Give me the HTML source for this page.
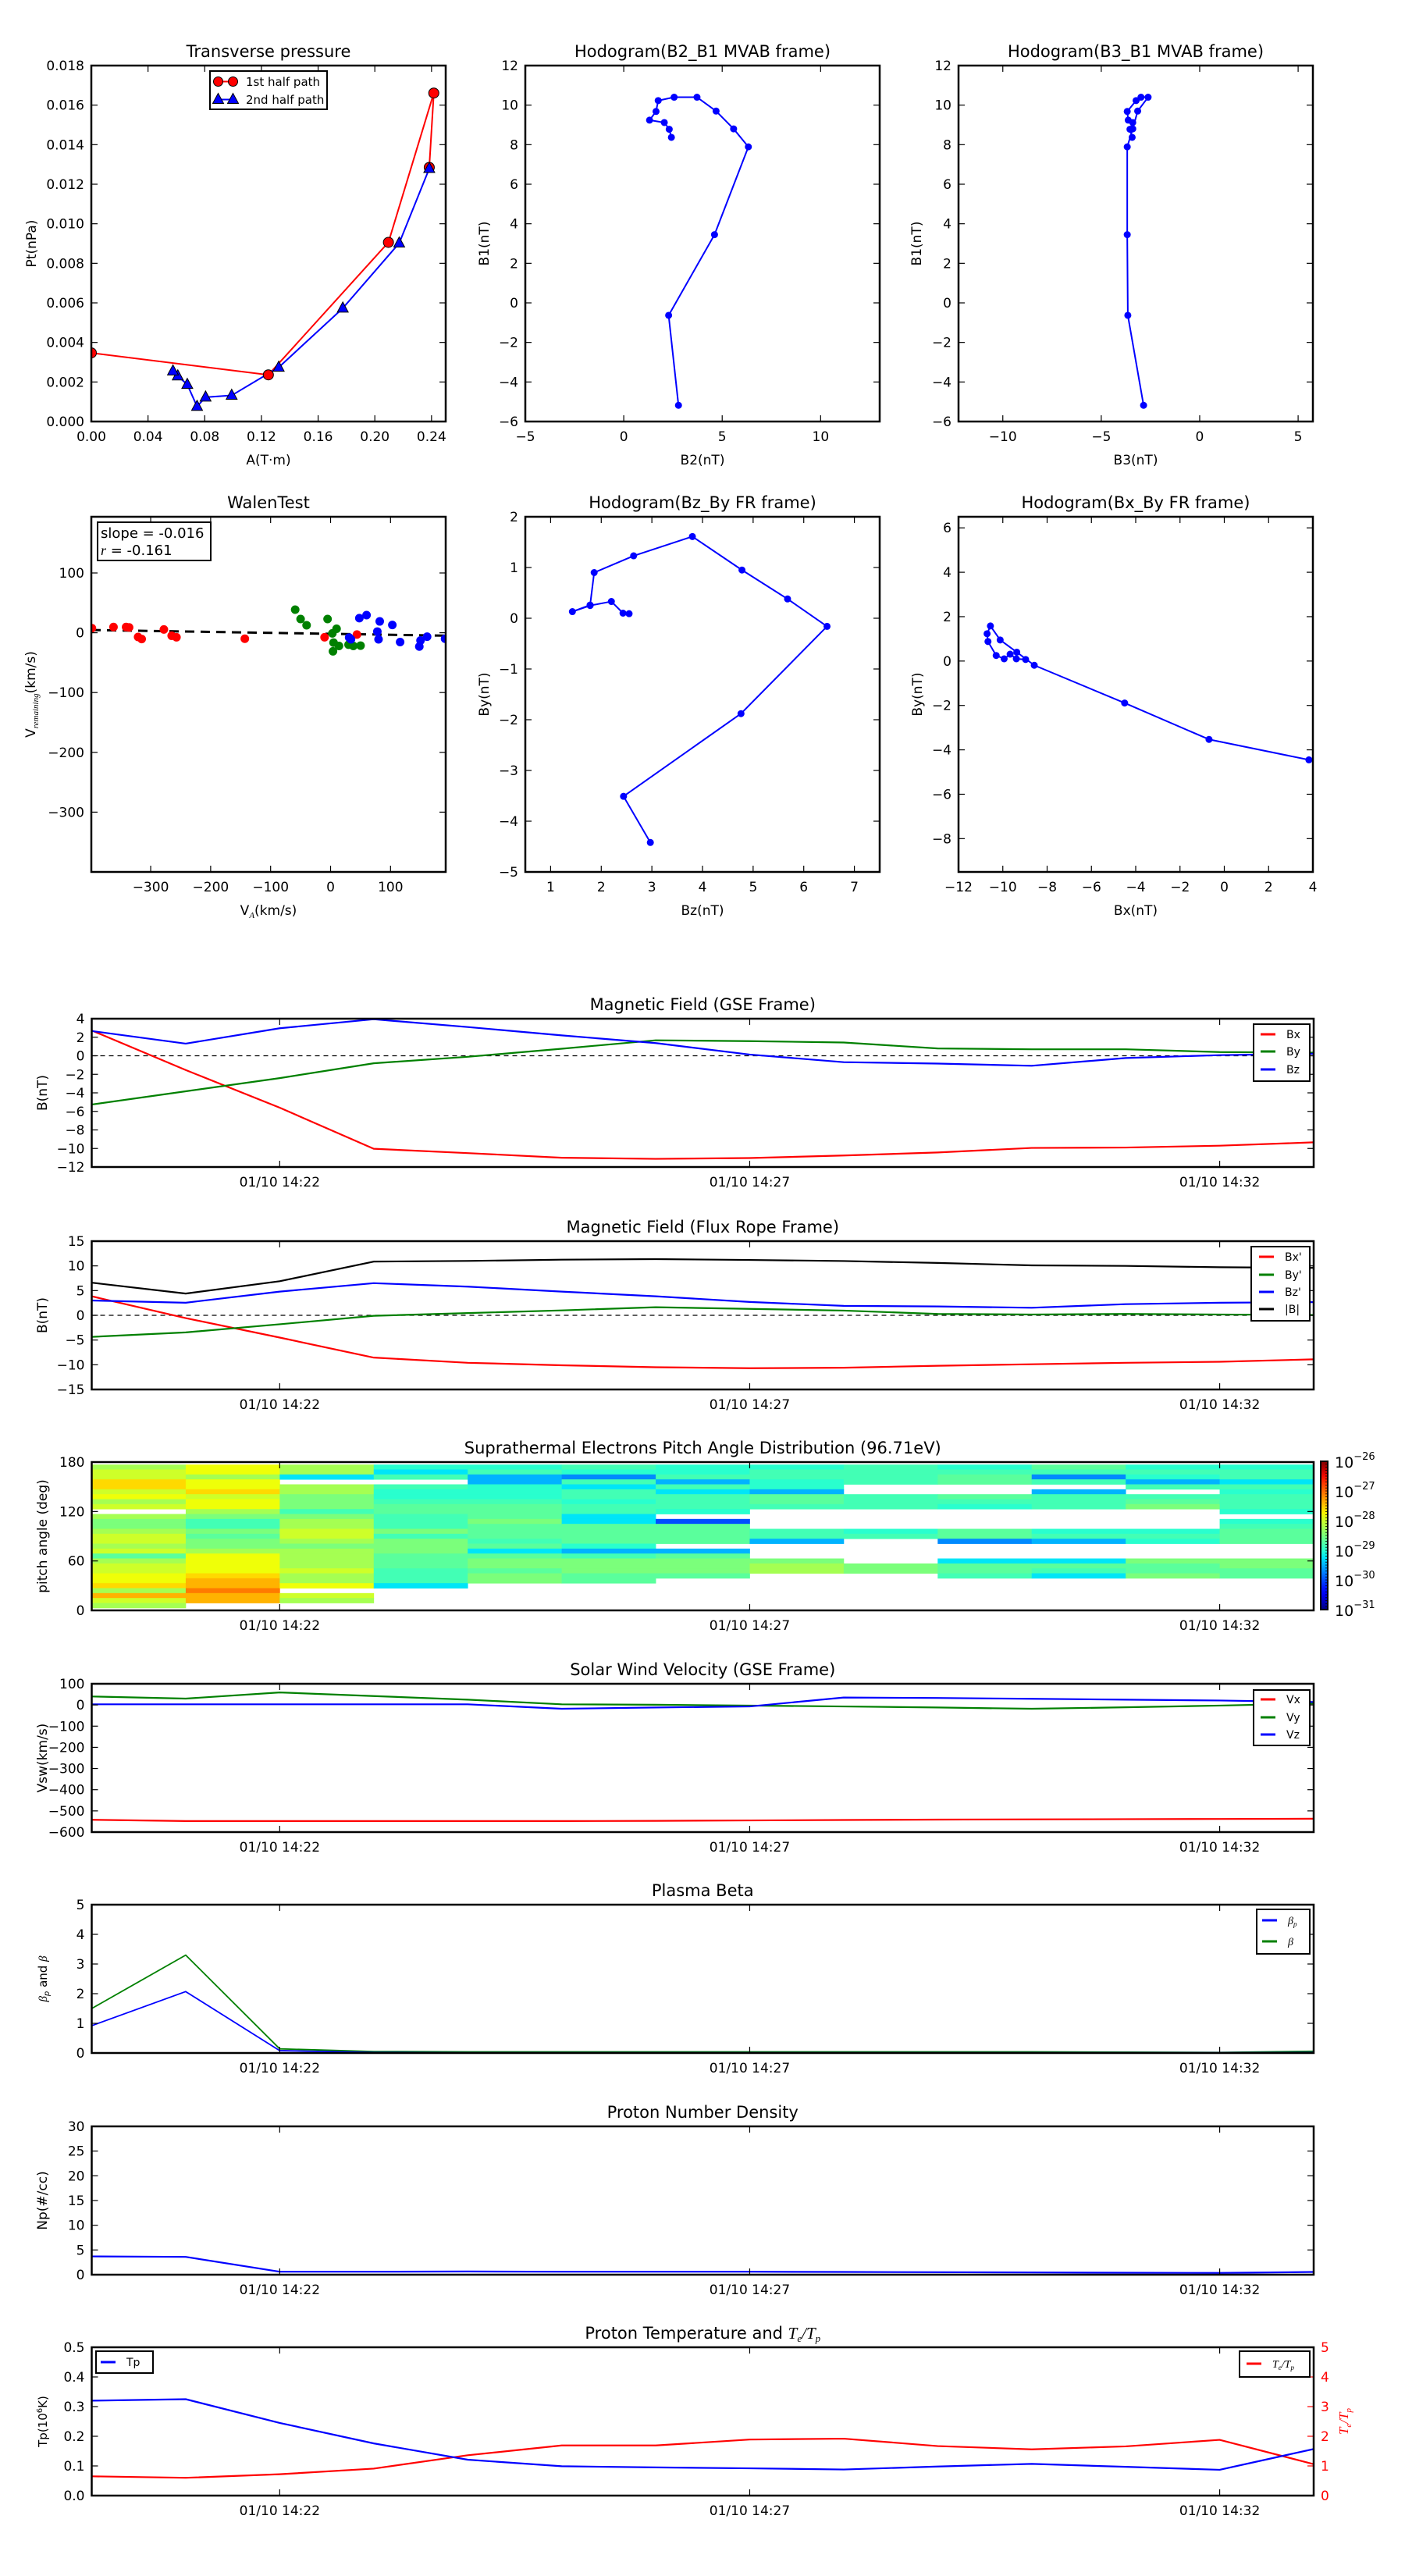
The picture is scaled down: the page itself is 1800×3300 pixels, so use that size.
<!DOCTYPE html>
<html><head><meta charset="utf-8">
<style>
html,body{margin:0;padding:0;background:#fff;}
svg{display:block;font-family:"DejaVu Sans","Liberation Sans",sans-serif;}
</style></head>
<body>
<svg id="fig" xmlns="http://www.w3.org/2000/svg" width="1800" height="3300" viewBox="0 0 1800 3300"></svg>
<script>
// ---------------- DATA ----------------
const tpRedA=[0,0.1249,0.2096,0.2416,0.2384];
const tpRedPt=[0.00347,0.00236,0.00906,0.01661,0.01285];
const tpBlueA=[0.2384,0.2172,0.1774,0.1322,0.099,0.0806,0.0746,0.0677,0.061,0.0576];
const tpBluePt=[0.01279,0.00902,0.00573,0.00274,0.00132,0.00123,0.00076,0.00187,0.0023,0.00255];
const hB2=[2.78,2.28,4.61,6.33,5.58,4.69,3.72,2.56,1.75,1.64,1.31,2.06,2.31,2.42];
const hB1=[-5.18,-0.63,3.45,7.89,8.80,9.70,10.40,10.40,10.23,9.68,9.24,9.12,8.78,8.37];
const hB3=[-2.85,-3.65,-3.68,-3.68,-3.40,-3.15,-2.62,-2.98,-3.23,-3.68,-3.63,-3.40,-3.54,-3.43];
const walenRedX=[-398,-362,-341,-336,-321,-315,-278,-265,-257,-143,-10,44];
const walenRedY=[7.6,9.6,9.6,9,-7,-10.5,5.5,-5,-7.5,-10,-7.5,-3];
const walenGreenX=[-59,-50,-40,-5,10,3,5,4,14,30,38,50];
const walenGreenY=[38.6,23,12.6,23,6.6,-1,-16.5,-31,-22,-20,-22,-21.5];
const walenBlueX=[31,34,48,60,78,80,82,103,116,148,150,161,191];
const walenBlueY=[-8,-11,24.5,29.5,2,-11,19,13,-15.5,-23,-13,-6.5,-10];
const walenSlope=-0.016, walenIntercept=-1.77;
const frBz=[2.97,2.44,4.76,6.46,5.68,4.78,3.80,2.64,1.86,1.78,1.43,1.78,2.20,2.43,2.55];
const frByA=[-4.42,-3.51,-1.88,-0.16,0.38,0.95,1.61,1.23,0.90,0.26,0.13,0.25,0.33,0.10,0.09];
const frBx=[3.82,-0.69,-4.50,-8.58,-9.37,-10.12,-10.56,-10.71,-10.67,-10.30,-9.94,-9.67,-9.39,-8.97];
const frByB=[-4.45,-3.53,-1.89,-0.19,0.40,0.95,1.58,1.23,0.88,0.25,0.10,0.31,0.10,0.07];
const tsMin=[0,1,2,3,4,5,6,7,8,9,10,11,12,13];
const tsTickMin=[2,7,12];
const tsTickLabels=['01/10 14:22','01/10 14:27','01/10 14:32'];
const gseBx=[2.73,-1.54,-5.6,-10.03,-10.5,-11.0,-11.12,-11.03,-10.76,-10.43,-9.94,-9.9,-9.7,-9.34];
const gseBy=[-5.26,-3.83,-2.41,-0.81,-0.11,0.76,1.67,1.58,1.43,0.79,0.70,0.70,0.4,0.34];
const gseBz=[2.67,1.31,2.97,3.94,3.1,2.2,1.37,0.13,-0.69,-0.84,-1.08,-0.24,0.07,0.22];
const frTBx=[3.85,-0.57,-4.5,-8.55,-9.6,-10.1,-10.5,-10.7,-10.6,-10.2,-9.9,-9.6,-9.4,-8.9];
const frTBy=[-4.36,-3.45,-1.81,-0.1,0.45,1.0,1.64,1.3,0.96,0.28,0.17,0.28,0.17,0.06];
const frTBz=[3.0,2.55,4.8,6.5,5.8,4.8,3.85,2.7,1.92,1.8,1.53,2.26,2.55,2.66];
const frTB=[6.6,4.4,6.9,10.87,11.0,11.26,11.37,11.2,10.98,10.6,10.1,10.0,9.73,9.6];
const swVx=[-542,-548,-548,-548,-548,-548,-547,-545,-543,-541,-540,-539,-538,-537];
const swVy=[40,30,59,42,25,3,1,-3,-7,-12,-18,-11,-3,7];
const swVz=[3,3,3,3,3,-18,-12,-7,35,33,29,25,21,14];
const betaP=[0.92,2.07,0.08,0.02,0.01,0.01,0.01,0.01,0.01,0.01,0.01,0.01,0.01,0.02];
const betaT=[1.5,3.3,0.14,0.05,0.04,0.04,0.04,0.04,0.04,0.04,0.04,0.03,0.02,0.06];
const densNp=[3.7,3.6,0.6,0.6,0.65,0.6,0.6,0.6,0.55,0.5,0.45,0.4,0.35,0.55];
const tempTp=[0.320,0.325,0.245,0.176,0.121,0.099,0.095,0.092,0.088,0.098,0.107,0.097,0.087,0.157];
const tempRatio=[0.65,0.6,0.72,0.91,1.36,1.69,1.69,1.89,1.92,1.67,1.56,1.66,1.88,1.06];
const padRowCenters=[174,168,162,156,150,144,138,132,126,120,114,108,102,96,90,84,78,72,66,60,54,48,42,36,30,24,18,12,6];
const padCols=[
[-28.25,-28,-28,-27.6,-27.6,-28,-27.8,-28.25,-28,null,-28.25,-28.5,-28.5,-28.25,-28,-28,-28.25,-28,-28.7,-28.25,-28,-28,-27.8,-27.8,-27.6,-28.25,-27.4,-28,-28.25],
[-27.8,-27.8,-28.25,-27.8,-27.8,-27.6,-28,-27.8,-27.8,-28.25,-28.5,-28.85,-28.85,-28.5,-28.7,-28.5,-28.5,-28.25,-27.8,-27.8,-27.8,-27.8,-27.6,-27.4,-27.4,-27.1,-27.4,-27.4,null],
[-28.25,-28.25,-29.25,null,-28.25,-28.25,-28.5,-28.5,-28.5,-28.85,-28.5,-28.25,-28.25,-28,-28,-28.25,-28.5,-28.25,-28.25,-28.25,-28.25,-28,-28.25,-28.25,-27.8,null,-28,-28.25,null],
[-29,-29.25,-28.85,null,-28.85,-29,-29,-28.85,-28.7,-28.7,-28.85,-28.85,-28.85,-28.5,-28.85,-28.5,-28.5,-28.5,-28.7,-28.7,-28.7,-28.85,-28.85,-28.85,-29.25,null,null,null,null],
[-29,-28.85,-29.5,-29.5,-29,-29,-29,-28.85,-28.7,-28.7,-28.7,-28.5,-28.7,-28.7,-28.7,-28.85,-28.7,-29.25,-28.7,-28.5,-28.5,-28.7,-28.5,-28.5,null,null,null,null,null],
[-28.85,-29,-29.7,-28.85,-29.25,-28.85,-28.85,-29,-28.85,-28.85,-29.25,-29.25,-28.7,-28.7,-28.7,-28.7,-29,-29.5,-28.85,-28.5,-28.5,-28.5,-28.7,-28.7,null,null,null,null,null],
[-29,-29,-28.85,-29.5,-28.85,-29.25,-28.85,-28.85,-28.85,-29,null,-30,-28.7,-28.7,-28.7,-28.7,null,-29.5,-28.7,-28.5,-28.5,-28.5,-28.7,null,null,null,null,null,null],
[-29,-28.85,-28.85,-29,-29,-29.5,-28.7,-28.7,-28.85,null,null,null,null,-28.85,-28.85,-29.5,null,null,null,-28.5,-28.25,-28.25,null,null,null,null,null,null,null],
[-28.85,-28.85,-28.85,-28.85,null,null,-28.85,-28.85,-28.85,null,null,null,null,-29,-28.85,null,null,null,null,null,-28.5,-28.5,null,null,null,null,null,null,null],
[-29,-28.85,-28.7,-28.7,null,null,-28.7,-28.85,-29,null,null,null,null,-28.7,-28.7,-29.7,null,null,null,-29.25,-28.7,-28.7,-28.85,null,null,null,null,null,null],
[-28.7,-28.85,-29.7,-28.85,null,-29.5,-28.85,-28.85,-28.85,null,null,null,null,-29,-28.85,-29.5,null,null,null,-29.25,-28.7,-28.85,-29.25,null,null,null,null,null,null],
[-29,-28.85,-29,-29.5,-28.85,null,-28.85,-28.7,-28.5,null,null,null,null,-29,-28.85,-29,null,null,null,-28.5,-28.7,-28.7,-28.5,null,null,null,null,null,null],
[-29,-28.85,-28.85,-29.25,-28.85,-29,-28.85,-28.85,-28.85,-29,null,-29,-28.85,-28.7,-28.7,-28.7,null,null,null,-28.5,-28.5,-28.7,-28.7,null,null,null,null,null,null]
];
const padLogMin=-31, padLogMax=-26;
const padCbarExp=[-31,-30,-29,-28,-27,-26];

// ---------------- HELPERS ----------------
const NS='http://www.w3.org/2000/svg';
const svg=document.getElementById('fig');
let cid=0;
function mk(tag,attrs,parent){const e=document.createElementNS(NS,tag);for(const k in attrs)e.setAttribute(k,attrs[k]);parent.appendChild(e);return e;}
function tx(parent,x,y,s,size,anchor,rot){const e=mk('text',{x:x,y:y,'font-size':size,'text-anchor':anchor||'middle',fill:'#000'},parent);if(rot)e.setAttribute('transform','rotate('+rot+' '+x+' '+y+')');e.textContent=s;return e;}
function fmt(v,d){return v.toFixed(d).replace('-','\u2212');}
function axes(name,L,T,W,H,x0,x1,y0,y1){
  const g=mk('g',{},svg);
  
  
  const id='clip'+(cid++);
  const cp=mk('clipPath',{id:id},g);
  mk('rect',{x:L,y:T,width:W,height:H},cp);
  const plot=mk('g',{'clip-path':'url(#'+id+')'},g);
  
  
  return {g:g,plot:plot,L:L,T:T,W:W,H:H,sx:v=>L+(v-x0)/(x1-x0)*W,sy:v=>T+H-(v-y0)/(y1-y0)*H};
}
function xticks(ax,vals,labels,size){
  const B=ax.T+ax.H;
  vals.forEach((v,i)=>{const x=ax.sx(v);
    const t1=mk('line',{x1:x,y1:B,x2:x,y2:B-8,stroke:'#000','stroke-width':1.2},ax.g);
    
    const t2=mk('line',{x1:x,y1:ax.T,x2:x,y2:ax.T+8,stroke:'#000','stroke-width':1.2},ax.g);
    
    const lb=tx(ax.g,x,B+25,labels[i],size||17,'middle');
    
  });
}
function yticks(ax,vals,labels,size,color,rightOnly,noRight){
  const R=ax.L+ax.W;
  vals.forEach((v,i)=>{const y=ax.sy(v);
    if(!rightOnly){
      const t1=mk('line',{x1:ax.L,y1:y,x2:ax.L+8,y2:y,stroke:'#000','stroke-width':1.2},ax.g);
      
      const lb=tx(ax.g,ax.L-9,y+6,labels[i],size||17,'end');
      
    }
    if(!noRight){
      const t2=mk('line',{x1:R,y1:y,x2:R-8,y2:y,stroke:color||'#000','stroke-width':1.2},ax.g);
      
    }
    if(rightOnly){
      const lb=tx(ax.g,R+9,y+6,labels[i],size||17,'start');
      lb.setAttribute('fill',color);
      
    }
  });
}
function frame(ax){const r=mk('rect',{x:ax.L,y:ax.T,width:ax.W,height:ax.H,fill:'none',stroke:'#000','stroke-width':2.5},ax.g);}
function title(ax,s){const t=tx(ax.g,ax.L+ax.W/2,ax.T-11,s,21,'middle');return t;}
function path(ax,xs,ys,color,w,dash){
  let d='';xs.forEach((v,i)=>{d+=(i?'L':'M')+ax.sx(v).toFixed(2)+' '+ax.sy(ys[i]).toFixed(2);});
  const p=mk('path',{d:d,fill:'none',stroke:color,'stroke-width':w||2,'stroke-linejoin':'round'},ax.plot);
  if(dash)p.setAttribute('stroke-dasharray',dash);
  return p;
}
function dots(ax,xs,ys,color,r,edge){
  xs.forEach((v,i)=>{const c=mk('circle',{cx:ax.sx(v),cy:ax.sy(ys[i]),r:r,fill:color,stroke:edge||color,'stroke-width':edge?1:0},ax.plot);
    
    });
}
function legendBox(parent,x,y,w,h){const r=mk('rect',{x:x,y:y,width:w,height:h,fill:'#fff',stroke:'#000','stroke-width':2},parent);return r;}
function legEntry(parent,x,y,color,label){
  const l=mk('line',{x1:x,y1:y,x2:x+19,y2:y,stroke:color,'stroke-width':3},parent);
  
  const t=tx(parent,x+33,y+5,label,14,'start');
  
  return t;
}
function jet(t){
  t=Math.max(0,Math.min(1,t));
  function seg(pts){for(let i=1;i<pts.length;i++){if(t<=pts[i][0]){const a=pts[i-1],b=pts[i];return a[1]+(b[1]-a[1])*(t-a[0])/(b[0]-a[0]);}}return pts[pts.length-1][1];}
  const r=seg([[0,0],[0.35,0],[0.66,1],[0.89,1],[1,0.5]]);
  const g=seg([[0,0],[0.125,0],[0.375,1],[0.64,1],[0.91,0],[1,0]]);
  const b=seg([[0,0.5],[0.11,1],[0.34,1],[0.65,0],[1,0]]);
  return 'rgb('+Math.round(r*255)+','+Math.round(g*255)+','+Math.round(b*255)+')';
}

// ---------------- ROW 1 ----------------
const r1T=84,r1H=456,pW=454;
(function(){
  const ax=axes('transverse-pressure-chart',117,r1T,pW,r1H,0,0.25,0,0.018);
  path(ax,tpRedA,tpRedPt,'#ff0000',2);
  path(ax,tpBlueA,tpBluePt,'#0000ff',2);
  tpRedA.forEach((v,i)=>{const c=mk('circle',{cx:ax.sx(v),cy:ax.sy(tpRedPt[i]),r:6.5,fill:'#ff0000',stroke:'#000','stroke-width':1},ax.plot);
    
    });
  tpBlueA.forEach((v,i)=>{const x=ax.sx(v),y=ax.sy(tpBluePt[i]);const p=mk('polygon',{points:(x)+','+(y-8)+' '+(x-7)+','+(y+5)+' '+(x+7)+','+(y+5),fill:'#0000ff',stroke:'#000','stroke-width':1},ax.plot);
    
    });
  xticks(ax,[0,0.04,0.08,0.12,0.16,0.20,0.24],['0.00','0.04','0.08','0.12','0.16','0.20','0.24']);
  const yv=[0,0.002,0.004,0.006,0.008,0.010,0.012,0.014,0.016,0.018];
  yticks(ax,yv,yv.map(v=>v.toFixed(3)));
  frame(ax);title(ax,'Transverse pressure');
  const xl=tx(ax.g,ax.L+ax.W/2,595,'A(T\u00b7m)',17,'middle');
  const yl=tx(ax.g,46,ax.T+ax.H/2,'Pt(nPa)',17,'middle',-90);
  const lg=mk('g',{},ax.g);
  legendBox(lg,269,91,150,49);
  mk('line',{x1:279,y1:104.5,x2:298.5,y2:104.5,stroke:'#ff0000','stroke-width':2},lg);
  mk('circle',{cx:279.5,cy:104.5,r:6,fill:'#ff0000',stroke:'#000'},lg);
  mk('circle',{cx:298.5,cy:104.5,r:6,fill:'#ff0000',stroke:'#000'},lg);
  const a=tx(lg,315,110,'1st half path',15,'start');
  mk('line',{x1:279,y1:127.5,x2:298.5,y2:127.5,stroke:'#0000ff','stroke-width':2},lg);
  mk('polygon',{points:'279.5,119.5 272.5,132.5 286.5,132.5',fill:'#0000ff',stroke:'#000'},lg);
  mk('polygon',{points:'298.5,119.5 291.5,132.5 305.5,132.5',fill:'#0000ff',stroke:'#000'},lg);
  const b=tx(lg,315,133,'2nd half path',15,'start');
})();
(function(){
  const ax=axes('hodogram-b2-b1-chart',673,r1T,pW,r1H,-5,13,-6,12);
  path(ax,hB2,hB1,'#0000ff',2);dots(ax,hB2,hB1,'#0000ff',4.5);
  xticks(ax,[-5,0,5,10],['\u22125','0','5','10']);
  const yv=[-6,-4,-2,0,2,4,6,8,10,12];yticks(ax,yv,yv.map(v=>fmt(v,0)));
  frame(ax);title(ax,'Hodogram(B2_B1 MVAB frame)');
  const xl=tx(ax.g,ax.L+ax.W/2,595,'B2(nT)',17,'middle');
  const yl=tx(ax.g,626,ax.T+ax.H/2,'B1(nT)',17,'middle',-90);
})();
(function(){
  const ax=axes('hodogram-b3-b1-chart',1228,r1T,pW,r1H,-12.25,5.75,-6,12);
  path(ax,hB3,hB1,'#0000ff',2);dots(ax,hB3,hB1,'#0000ff',4.5);
  xticks(ax,[-10,-5,0,5],['\u221210','\u22125','0','5']);
  const yv=[-6,-4,-2,0,2,4,6,8,10,12];yticks(ax,yv,yv.map(v=>fmt(v,0)));
  frame(ax);title(ax,'Hodogram(B3_B1 MVAB frame)');
  const xl=tx(ax.g,ax.L+ax.W/2,595,'B3(nT)',17,'middle');
  const yl=tx(ax.g,1180,ax.T+ax.H/2,'B1(nT)',17,'middle',-90);
})();

// ---------------- ROW 2 ----------------
const r2T=662,r2H=455;
(function(){
  const ax=axes('walen-test-chart',117,r2T,pW,r2H,-399,192,-400,194);
  const lx=[-399,192];
  const d=mk('line',{x1:ax.sx(lx[0]),y1:ax.sy(walenSlope*lx[0]+walenIntercept),x2:ax.sx(lx[1]),y2:ax.sy(walenSlope*lx[1]+walenIntercept),stroke:'#000','stroke-width':3,'stroke-dasharray':'12,8'},ax.plot);
  
  dots(ax,walenRedX,walenRedY,'#ff0000',5.5);
  dots(ax,walenGreenX,walenGreenY,'#008000',5.5);
  dots(ax,walenBlueX,walenBlueY,'#0000ff',5.5);
  xticks(ax,[-300,-200,-100,0,100],['\u2212300','\u2212200','\u2212100','0','100']);
  yticks(ax,[-300,-200,-100,0,100],['\u2212300','\u2212200','\u2212100','0','100']);
  frame(ax);title(ax,'WalenTest');
  const xl=tx(ax.g,ax.L+ax.W/2,1172,'V',17,'middle');
  const s1=mk('tspan',{'font-size':11,'font-style':'italic','font-family':'"Liberation Serif",serif',dy:4},xl);s1.textContent='A';
  const s2=mk('tspan',{dy:-4},xl);s2.textContent='(km/s)';
  const yl=tx(ax.g,45,ax.T+ax.H/2,'V',17,'middle',-90);
  const s3=mk('tspan',{'font-size':11,'font-style':'italic','font-family':'"Liberation Serif",serif',dy:4},yl);s3.textContent='remaining';
  const s4=mk('tspan',{dy:-4},yl);s4.textContent='(km/s)';
  const bx=mk('g',{},ax.g);
  legendBox(bx,125,669,145,49);
  const a=tx(bx,129,689,'slope = -0.016',18,'start');
  const b=tx(bx,129,711,'',18,'start');
  const r=mk('tspan',{'font-style':'italic','font-family':'"Liberation Serif",serif'},b);r.textContent='r';
  const r2=mk('tspan',{},b);r2.textContent=' = -0.161';
})();
(function(){
  const ax=axes('hodogram-bz-by-chart',673,r2T,pW,r2H,0.5,7.5,-5,2);
  path(ax,frBz,frByA,'#0000ff',2);dots(ax,frBz,frByA,'#0000ff',4.5);
  xticks(ax,[1,2,3,4,5,6,7],['1','2','3','4','5','6','7']);
  const yv=[-5,-4,-3,-2,-1,0,1,2];yticks(ax,yv,yv.map(v=>fmt(v,0)));
  frame(ax);title(ax,'Hodogram(Bz_By FR frame)');
  const xl=tx(ax.g,ax.L+ax.W/2,1172,'Bz(nT)',17,'middle');
  const yl=tx(ax.g,626,ax.T+ax.H/2,'By(nT)',17,'middle',-90);
})();
(function(){
  const ax=axes('hodogram-bx-by-chart',1228,r2T,pW,r2H,-12,4,-9.5,6.5);
  path(ax,frBx,frByB,'#0000ff',2);dots(ax,frBx,frByB,'#0000ff',4.5);
  const xv=[-12,-10,-8,-6,-4,-2,0,2,4];xticks(ax,xv,xv.map(v=>fmt(v,0)));
  const yv=[-8,-6,-4,-2,0,2,4,6];yticks(ax,yv,yv.map(v=>fmt(v,0)));
  frame(ax);title(ax,'Hodogram(Bx_By FR frame)');
  const xl=tx(ax.g,ax.L+ax.W/2,1172,'Bx(nT)',17,'middle');
  const yl=tx(ax.g,1181,ax.T+ax.H/2,'By(nT)',17,'middle',-90);
})();

// ---------------- TIME SERIES ----------------
const tsL=117.5,tsW=1565.5,tsH=190;
function tsAxes(name,top,y0,y1){return axes(name,tsL,top,tsW,tsH,0,13,y0,y1);}
function tsFinish(ax,t,yv,yl,ylabel){
  xticks(ax,tsTickMin,tsTickLabels);
  yticks(ax,yv,yl);
  frame(ax);title(ax,t);
  const y=tx(ax.g,60,ax.T+ax.H/2,ylabel,17,'middle',-90);
  
  return y;
}
(function(){
  const ax=tsAxes('magnetic-field-gse-chart',1305,-12,4);
  const z=mk('line',{x1:ax.L,y1:ax.sy(0),x2:ax.L+ax.W,y2:ax.sy(0),stroke:'#000','stroke-width':1.2,'stroke-dasharray':'6,5'},ax.plot);
  path(ax,tsMin,gseBx,'#ff0000',2.2);
  path(ax,tsMin,gseBy,'#008000',2.2);
  path(ax,tsMin,gseBz,'#0000ff',2.2);
  const yv=[-12,-10,-8,-6,-4,-2,0,2,4];
  tsFinish(ax,'Magnetic Field (GSE Frame)',yv,yv.map(v=>fmt(v,0)),'B(nT)');
  const lg=mk('g',{},ax.g);
  legendBox(lg,1606,1312,72,73);
  legEntry(lg,1615,1325,'#ff0000','Bx');legEntry(lg,1615,1347,'#008000','By');legEntry(lg,1615,1370,'#0000ff','Bz');
})();
(function(){
  const ax=tsAxes('magnetic-field-flux-rope-chart',1590,-15,15);
  const z=mk('line',{x1:ax.L,y1:ax.sy(0),x2:ax.L+ax.W,y2:ax.sy(0),stroke:'#000','stroke-width':1.2,'stroke-dasharray':'6,5'},ax.plot);
  path(ax,tsMin,frTBx,'#ff0000',2.2);
  path(ax,tsMin,frTBy,'#008000',2.2);
  path(ax,tsMin,frTBz,'#0000ff',2.2);
  path(ax,tsMin,frTB,'#000000',2.2);
  const yv=[-15,-10,-5,0,5,10,15];
  tsFinish(ax,'Magnetic Field (Flux Rope Frame)',yv,yv.map(v=>fmt(v,0)),'B(nT)');
  const lg=mk('g',{},ax.g);
  legendBox(lg,1603,1597,75,95);
  legEntry(lg,1613,1610,'#ff0000',"Bx'");legEntry(lg,1613,1633,'#008000',"By'");legEntry(lg,1613,1655,'#0000ff',"Bz'");legEntry(lg,1613,1677,'#000000','|B|');
})();
(function(){
  const ax=tsAxes('pitch-angle-distribution-chart',1873,0,180);
  padCols.forEach((col,j)=>{
    col.forEach((v,i)=>{
      if(v===null)return;
      const a=padRowCenters[i];
      const x0=ax.sx(tsMin[j]),x1=ax.sx(tsMin[j+1]);
      const y0=ax.sy(a+3),y1=ax.sy(a-3);
      const r=mk('rect',{x:x0,y:y0,width:x1-x0+0.4,height:y1-y0+0.4,fill:jet((v-padLogMin)/(padLogMax-padLogMin))},ax.plot);
      
      
    });
  });
  const yv=[0,60,120,180];
  tsFinish(ax,'Suprathermal Electrons Pitch Angle Distribution (96.71eV)',yv,yv.map(v=>String(v)),'pitch angle (deg)');
  const cb=mk('g',{},svg);
  const defs=mk('defs',{},cb);
  const gr=mk('linearGradient',{id:'jetgrad',x1:0,y1:1,x2:0,y2:0},defs);
  for(let k=0;k<=20;k++){mk('stop',{offset:(k/20),'stop-color':jet(k/20)},gr);}
  const cbT=1872,cbH=190,cbX=1692,cbW=9;
  mk('rect',{x:cbX,y:cbT,width:cbW,height:cbH,fill:'url(#jetgrad)',stroke:'#000','stroke-width':2},cb);
  padCbarExp.forEach(e=>{
    const y=cbT+cbH-(e-padLogMin)/(padLogMax-padLogMin)*cbH;
    const t=tx(cb,1710,y+8,'10',19,'start');
    const s=mk('tspan',{'font-size':13,dy:-10},t);s.textContent=fmt(e,0);
  });
  for(let k=0;k<=50;k++){const y=cbT+cbH*k/50;mk('line',{x1:cbX+cbW-3,y1:y,x2:cbX+cbW,y2:y,stroke:'#000','stroke-width':0.8},cb);}
})();
(function(){
  const ax=tsAxes('solar-wind-velocity-chart',2157,-600,100);
  path(ax,tsMin,swVx,'#ff0000',2.2);
  path(ax,tsMin,swVy,'#008000',2.2);
  path(ax,tsMin,swVz,'#0000ff',2.2);
  const yv=[-600,-500,-400,-300,-200,-100,0,100];
  tsFinish(ax,'Solar Wind Velocity (GSE Frame)',yv,yv.map(v=>fmt(v,0)),'Vsw(km/s)');
  const lg=mk('g',{},ax.g);
  legendBox(lg,1606,2165,72,71);
  legEntry(lg,1615,2177,'#ff0000','Vx');legEntry(lg,1615,2200,'#008000','Vy');legEntry(lg,1615,2222,'#0000ff','Vz');
})();
(function(){
  const ax=tsAxes('plasma-beta-chart',2440,0,5);
  path(ax,tsMin,betaT,'#008000',1.8);
  path(ax,tsMin,betaP,'#0000ff',1.8);
  const yv=[0,1,2,3,4,5];
  const yl=tsFinish(ax,'Plasma Beta',yv,yv.map(v=>String(v)),'');
  yl.setAttribute('font-size',15);
  const a=mk('tspan',{'font-style':'italic','font-family':'"Liberation Serif",serif'},yl);a.textContent='\u03b2';
  const b=mk('tspan',{'font-size':10,'font-style':'italic',dy:3},yl);b.textContent='p';
  const c=mk('tspan',{dy:-3},yl);c.textContent=' and ';
  const d=mk('tspan',{'font-style':'italic','font-family':'"Liberation Serif",serif'},yl);d.textContent='\u03b2';
  const lg=mk('g',{},ax.g);
  legendBox(lg,1610,2446,68,57);
  const e1=legEntry(lg,1617,2460,'#0000ff','');e1.setAttribute('font-style','italic');e1.setAttribute('font-family','"Liberation Serif",serif');
  const t1=mk('tspan',{},e1);t1.textContent='\u03b2';const t2=mk('tspan',{'font-size':9,dy:3},e1);t2.textContent='p';
  const e2=legEntry(lg,1617,2487,'#008000','\u03b2');e2.setAttribute('font-style','italic');e2.setAttribute('font-family','"Liberation Serif",serif');
})();
(function(){
  const ax=tsAxes('proton-density-chart',2724,0,30);
  path(ax,tsMin,densNp,'#0000ff',2.2);
  const yv=[0,5,10,15,20,25,30];
  tsFinish(ax,'Proton Number Density',yv,yv.map(v=>String(v)),'Np(#/cc)');
})();
(function(){
  const ax=tsAxes('proton-temperature-chart',3007,0,0.5);
  const sy2=v=>ax.T+ax.H-(v/5)*ax.H;
  let d='';tsMin.forEach((m,i)=>{d+=(i?'L':'M')+ax.sx(m).toFixed(2)+' '+sy2(tempRatio[i]).toFixed(2);});
  const pr=mk('path',{d:d,fill:'none',stroke:'#ff0000','stroke-width':2.2},ax.plot);
  path(ax,tsMin,tempTp,'#0000ff',2.2);
  xticks(ax,tsTickMin,tsTickLabels);
  const yv=[0,0.1,0.2,0.3,0.4,0.5];
  yticks(ax,yv,yv.map(v=>v.toFixed(1)),17,'#000',false,true);
  const ax2={g:ax.g,L:ax.L,W:ax.W,T:ax.T,H:ax.H,sy:sy2};
  yticks(ax2,[0,1,2,3,4,5],['0','1','2','3','4','5'],17,'#ff0000',true);
  frame(ax);
  const t=title(ax,'Proton Temperature and ');
  const a=mk('tspan',{'font-style':'italic','font-family':'"Liberation Serif",serif'},t);a.textContent='T';
  const b=mk('tspan',{'font-size':13,'font-style':'italic','font-family':'"Liberation Serif",serif',dy:4},t);b.textContent='e';
  const c=mk('tspan',{'font-style':'italic','font-family':'"Liberation Serif",serif',dy:-4},t);c.textContent='/T';
  const e=mk('tspan',{'font-size':13,'font-style':'italic','font-family':'"Liberation Serif",serif',dy:4},t);e.textContent='p';
  const yl=tx(ax.g,60,ax.T+ax.H/2,'Tp(10',15,'middle',-90);
  const s=mk('tspan',{'font-size':10,dy:-6},yl);s.textContent='6';
  const s2=mk('tspan',{dy:6},yl);s2.textContent='K)';
  const yr=tx(ax.g,1727,ax.T+ax.H/2,'T',17,'middle',-90);yr.setAttribute('fill','#ff0000');yr.setAttribute('font-style','italic');yr.setAttribute('font-family','"Liberation Serif",serif');
  
  const q1=mk('tspan',{'font-size':11,dy:4},yr);q1.textContent='e';
  const q2=mk('tspan',{dy:-4},yr);q2.textContent='/T';
  const q3=mk('tspan',{'font-size':11,dy:4},yr);q3.textContent='p';
  const lg=mk('g',{},ax.g);
  legendBox(lg,123,3012,73,28);
  legEntry(lg,129,3026,'#0000ff','Tp');
  const lg2=mk('g',{},ax.g);
  legendBox(lg2,1588,3012,90,33);
  const e2=legEntry(lg2,1597,3028,'#ff0000','T');e2.setAttribute('font-style','italic');e2.setAttribute('font-family','"Liberation Serif",serif');
  const u1=mk('tspan',{'font-size':9,dy:3},e2);u1.textContent='e';
  const u2=mk('tspan',{dy:-3},e2);u2.textContent='/T';
  const u3=mk('tspan',{'font-size':9,dy:3},e2);u3.textContent='p';
})();
</script>
</body></html>
